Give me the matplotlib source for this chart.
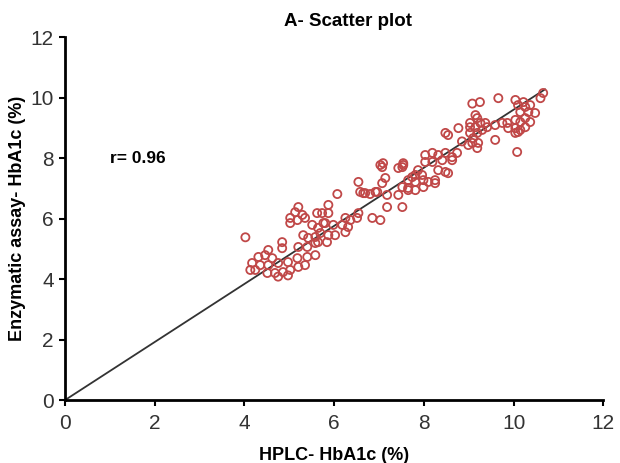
import matplotlib
matplotlib.use("Agg")
import matplotlib.pyplot as plt

plt.rcParams['font.family'] = ['Liberation Sans', 'DejaVu Sans']

# HPLC (x) vs enzymatic assay (y), HbA1c %
hplc = [4.02, 5.20, 5.13, 5.29, 5.02, 5.02, 5.18, 5.35, 5.62, 5.51, 5.64, 5.76,
        5.31, 5.42, 5.58, 5.69, 4.84, 4.84, 4.53, 5.20, 5.40, 5.58, 4.31, 4.46,
        4.62, 4.17, 4.35, 4.24, 4.13, 4.53, 4.75, 4.97, 5.18, 5.40, 5.58, 4.51,
        4.68, 4.86, 5.02, 5.20, 5.35, 4.75, 4.97,
        7.07, 7.14, 7.07, 7.43, 6.07, 6.65, 6.80, 6.92, 7.18, 7.43, 7.18, 7.52,
        5.87, 5.73, 5.87, 6.54, 6.25, 6.36, 6.51, 6.85, 7.03, 5.80, 5.98, 6.18,
        6.31, 5.87, 6.02, 6.25, 5.64, 5.84, 6.54,
        7.03, 7.54, 6.58, 6.69, 6.96, 7.65, 7.74, 7.09,
        8.48, 8.54, 8.77, 9.03, 9.08, 8.03, 8.19, 8.32, 8.48, 8.63, 8.74, 8.03,
        8.19, 8.41, 8.63, 7.54, 7.52, 8.32, 8.48, 8.54, 7.87, 7.81, 7.96, 7.65,
        7.81, 7.99, 8.10, 8.25, 7.52, 7.65, 7.81, 7.99, 8.25, 8.85,
        10.66, 10.60, 9.66, 9.08, 9.25, 10.04, 10.22, 10.10, 10.26, 10.37, 10.15,
        10.33, 10.48, 9.15, 9.19, 9.03, 9.15, 9.26, 9.37, 9.59, 9.75, 9.86, 10.04,
        10.15, 10.26, 9.88, 10.04, 10.10, 10.26, 10.37, 9.03, 9.19, 9.30, 9.10,
        8.99, 9.21, 9.19, 9.59, 10.04, 10.15, 10.08, 9.41]
enzymatic = [5.38, 6.38, 6.21, 6.12, 6.02, 5.85, 5.95, 6.02, 6.18, 5.79, 5.69, 5.85,
             5.45, 5.36, 5.39, 5.52, 5.22, 5.02, 4.96, 5.06, 5.06, 5.19, 4.73, 4.79,
             4.69, 4.53, 4.46, 4.30, 4.30, 4.46, 4.53, 4.56, 4.69, 4.73, 4.79, 4.20,
             4.20, 4.23, 4.30, 4.40, 4.46, 4.08, 4.12,
             7.70, 7.34, 7.17, 7.67, 6.81, 6.84, 6.81, 6.88, 6.78, 6.78, 6.38, 6.38,
             6.45, 6.18, 6.18, 6.18, 6.02, 5.95, 6.02, 6.02, 5.95, 5.85, 5.79, 5.79,
             5.72, 5.45, 5.45, 5.55, 5.22, 5.22, 7.21,
             7.77, 7.77, 6.88, 6.84, 6.88, 6.94, 7.37, 7.83,
             8.83, 8.76, 8.99, 9.02, 8.50, 8.10, 8.17, 8.10, 8.17, 8.03, 8.17, 7.87,
             7.87, 7.93, 7.93, 7.83, 7.70, 7.60, 7.54, 7.50, 7.60, 7.44, 7.44, 7.27,
             7.21, 7.27, 7.21, 7.27, 7.04, 7.01, 6.94, 7.04, 7.17, 8.55,
             10.15, 9.98, 9.98, 9.80, 9.85, 9.92, 9.85, 9.75, 9.69, 9.75, 9.52,
             9.52, 9.49, 9.42, 9.32, 9.16, 9.02, 9.16, 9.16, 9.09, 9.16, 9.16, 9.26,
             9.19, 9.32, 8.99, 8.99, 8.86, 9.02, 9.19, 8.83, 8.83, 8.93, 8.66,
             8.43, 8.50, 8.33, 8.60, 8.83, 8.93, 8.20, 9.02]

# regression line end points
fit_x = [0, 10.7]
fit_y = [0, 10.27]

fig = plt.figure(figsize=(6.2, 4.63), dpi=100)
ax = fig.add_axes([0.105, 0.136, 0.868, 0.784])

ax.plot(fit_x, fit_y, color='#333333', linewidth=1.3, zorder=2)
ax.scatter(hplc, enzymatic, s=34, facecolors='none', edgecolors='#c04848',
           linewidths=1.3, zorder=3)

ax.set_xlim(0, 12)
ax.set_ylim(0, 12)
ax.set_xticks(range(0, 13, 2))
ax.set_yticks(range(0, 13, 2))
for s in ['top', 'right']:
    ax.spines[s].set_visible(False)
for s in ['left', 'bottom']:
    ax.spines[s].set_linewidth(2)
ax.tick_params(direction='out', length=4, width=1.5, labelsize=15,
               labelcolor='#333333')
ax.tick_params(axis='x', pad=6)
ax.tick_params(axis='y', pad=4)

ax.set_xlabel("HPLC- HbA1c (%)", fontsize=13, fontweight='bold', labelpad=10)
ax.set_ylabel("Enzymatic assay- HbA1c (%)", fontsize=13, fontweight='bold', labelpad=3)
ax.set_title("A- Scatter plot", fontsize=13.5, fontweight='bold', x=0.526, pad=8)
ax.text(1.0, 8.0, "r= 0.96", fontsize=12.5, fontweight='bold', va='center')

fig.savefig("out.png", dpi=100)
